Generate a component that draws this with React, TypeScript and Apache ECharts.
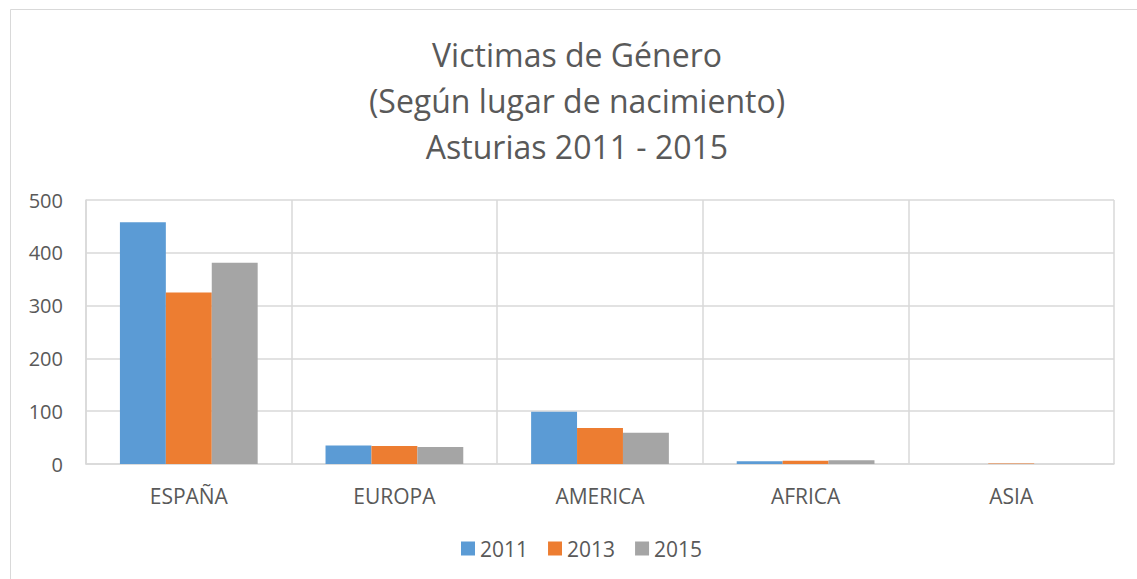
import React, { useEffect, useRef } from "react";
import * as echarts from "echarts";

const categories = ["ESPAÑA", "EUROPA", "AMERICA", "AFRICA", "ASIA"];
const seriesNames = ["2011", "2013", "2015"];
const values2011 = [458, 35, 99, 5, 0];
const values2013 = [325, 34, 68, 6, 1];
const values2015 = [381, 32, 59, 7, 0];
const colors = ["#5B9BD5", "#ED7D31", "#A5A5A5"];
const titleText = "Victimas de Género\n(Según lugar de nacimiento)\nAsturias 2011 - 2015";

export default function App() {
  const ref = useRef<HTMLDivElement>(null);
  useEffect(() => {
    document.body.style.margin = "0";
    const chart = echarts.init(ref.current!, null, { renderer: "svg" });
    const font = "'Open Sans', sans-serif";
    const data = [values2011, values2013, values2015];
    chart.setOption({
      animation: false,
      backgroundColor: "#ffffff",
      title: {
        text: titleText,
        left: 577,
        textAlign: "center",
        top: 31,
        padding: 0,
        textStyle: {
          fontFamily: font,
          fontSize: 32,
          fontWeight: "normal",
          color: "#595959",
          lineHeight: 46,
        },
      },
      graphic: [
        {
          type: "rect",
          shape: { x: 10.5, y: 9.5, width: 1200, height: 700 },
          style: { fill: "none", stroke: "#d9d9d9", lineWidth: 1 },
          silent: true,
          z: -10,
        },
      ],
      legend: {
        data: seriesNames,
        left: 461,
        top: 538,
        padding: 0,
        icon: "rect",
        itemWidth: 14,
        itemHeight: 14,
        itemGap: 20,
        textStyle: { fontFamily: font, fontSize: 21, color: "#595959", padding: [0, 0, 0, 0] },
      },
      grid: { left: 86, right: 23, top: 200, bottom: 115, containLabel: false },
      xAxis: {
        type: "category",
        data: categories,
        axisLine: { lineStyle: { color: "#d9d9d9", width: 1.5 } },
        axisTick: { show: false },
        splitLine: { show: true, interval: 0, lineStyle: { color: "#d9d9d9", width: 1.5 } },
        axisLabel: { fontFamily: font, fontSize: 21, color: "#595959", margin: 21, interval: 0 },
      },
      yAxis: {
        type: "value",
        min: 0,
        max: 500,
        interval: 100,
        axisLine: { show: true, lineStyle: { color: "#d9d9d9", width: 1.5 } },
        axisTick: { show: false },
        splitLine: { lineStyle: { color: "#d9d9d9", width: 1.5 } },
        axisLabel: { fontFamily: font, fontSize: 20, color: "#595959", margin: 23 },
      },
      series: seriesNames.map((name, i) => ({
        name,
        type: "bar",
        data: data[i],
        barGap: "0%",
        barCategoryGap: "33%",
        itemStyle: { color: colors[i] },
      })),
    });
    return () => chart.dispose();
  }, []);
  return <div ref={ref} style={{ width: 1137, height: 579 }} />;
}
